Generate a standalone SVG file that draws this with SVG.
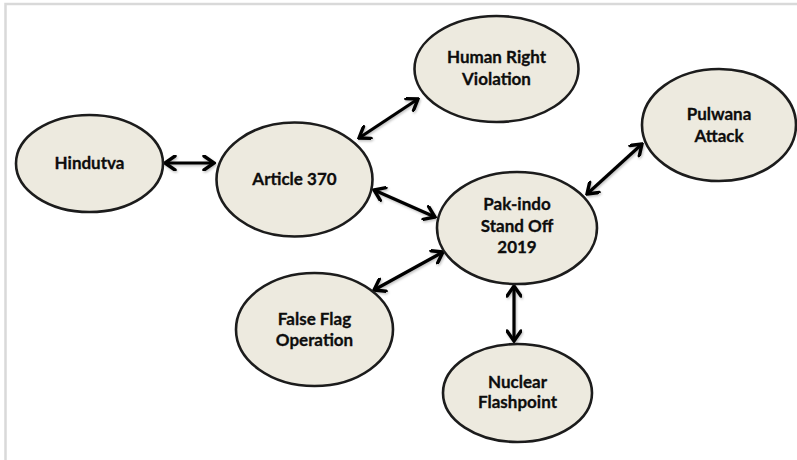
<svg xmlns="http://www.w3.org/2000/svg" width="797" height="460" viewBox="0 0 797 460">
  <defs>
    <marker id="head" viewBox="-12 -8 14 16" markerWidth="14" markerHeight="16" refX="0" refY="0" orient="auto-start-reverse" markerUnits="userSpaceOnUse">
      <path d="M-10,-7 L0,0 L-10,7" fill="none" stroke="#000" stroke-width="3.4" stroke-linecap="round" stroke-linejoin="miter"/>
    </marker>
    <filter id="soft" x="-10%" y="-10%" width="130%" height="130%">
      <feDropShadow dx="1" dy="1.5" stdDeviation="1" flood-color="#000" flood-opacity="0.25"/>
    </filter>
  </defs>
  <style>
    .node ellipse { fill: #EDEADF; stroke: #1c1c1c; stroke-width: 2.6; }
    .node text { font-family: Lato, "Open Sans", "Liberation Sans", sans-serif; font-weight: bold; font-size: 17px; fill: #0d0d0d; stroke: #0d0d0d; stroke-width: 0.3; text-anchor: middle; }
    .edge { stroke: #000; stroke-width: 3.2; fill: none; marker-start: url(#head); marker-end: url(#head); }
  </style>
  <rect x="0" y="0" width="797" height="460" fill="#fff"/>
  <!-- frame -->
  <path d="M5.5,460 V4 H797" fill="none" stroke="#d9d9d9" stroke-width="2.5"/>

  <g id="connectors" filter="url(#soft)">
    <line class="edge" x1="165" y1="163" x2="214" y2="163"/>
    <line class="edge" x1="359" y1="138" x2="418" y2="99"/>
    <line class="edge" x1="374" y1="190" x2="435" y2="217"/>
    <line class="edge" x1="587" y1="194" x2="642" y2="144"/>
    <line class="edge" x1="443" y1="252" x2="374" y2="290"/>
    <line class="edge" x1="514" y1="286" x2="514" y2="341"/>
  </g>

  <g id="human-right" class="node">
    <ellipse cx="496.5" cy="69" rx="82" ry="53"/>
    <text x="496.5" y="63">Human Right</text>
    <text x="496.5" y="85">Violation</text>
  </g>
  <g id="hindutva" class="node">
    <ellipse cx="89.5" cy="163.5" rx="73.5" ry="48.5"/>
    <text x="89.5" y="169">Hindutva</text>
  </g>
  <g id="article-370" class="node">
    <ellipse cx="294.5" cy="179.5" rx="78" ry="57"/>
    <text x="294.5" y="185">Article 370</text>
  </g>
  <g id="pak-indo" class="node">
    <ellipse cx="517" cy="228" rx="80" ry="56"/>
    <text x="517" y="210">Pak-indo</text>
    <text x="517" y="232">Stand Off</text>
    <text x="517" y="253">2019</text>
  </g>
  <g id="pulwana" class="node">
    <ellipse cx="719" cy="125" rx="77" ry="56"/>
    <text x="719" y="120">Pulwana</text>
    <text x="719" y="142">Attack</text>
  </g>
  <g id="false-flag" class="node">
    <ellipse cx="314.5" cy="329.5" rx="78.5" ry="56.5"/>
    <text x="314.5" y="325">False Flag</text>
    <text x="314.5" y="346">Operation</text>
  </g>
  <g id="nuclear" class="node">
    <ellipse cx="517.5" cy="393" rx="74.5" ry="49"/>
    <text x="517.5" y="388">Nuclear</text>
    <text x="517.5" y="408">Flashpoint</text>
  </g>
</svg>
